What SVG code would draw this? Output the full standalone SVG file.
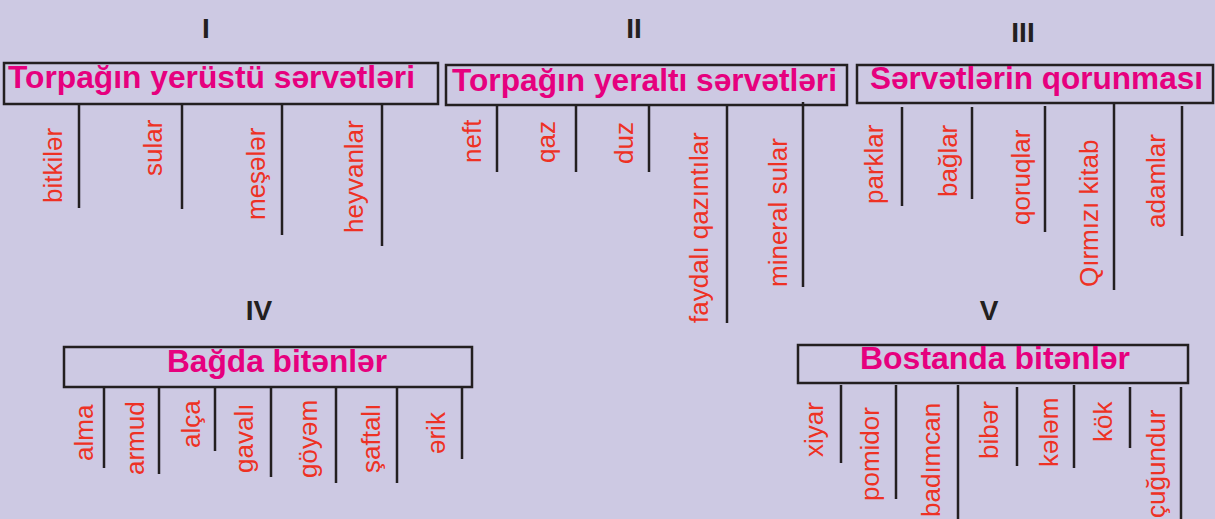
<svg xmlns="http://www.w3.org/2000/svg" width="1215" height="519" viewBox="0 0 1215 519">
<style>
.num{font-family:"Liberation Sans",Arial,sans-serif;font-weight:bold;font-size:28px;fill:#231f20;text-anchor:middle}
.ttl{font-family:"Liberation Sans",Arial,sans-serif;font-weight:bold;font-size:31px;fill:#e6007e}
.lbl{font-family:"Liberation Sans",Arial,sans-serif;font-size:26px;fill:#ee3124}
.box{fill:none;stroke:#231f20;stroke-width:2.5}
.ln{stroke:#231f20;stroke-width:2.5;fill:none}
</style>
<rect width="1215" height="519" fill="#cdc9e3"/>

<g id="node-I">
<text class="num" x="206" y="38">I</text>
<rect class="box" x="4" y="63" width="434" height="41"/>
<text class="ttl" x="8" y="88" textLength="407" lengthAdjust="spacingAndGlyphs">Torpağın yerüstü sərvətləri</text>
<text class="lbl" transform="translate(62,203) rotate(-90)">bitkilər</text>
<text class="lbl" transform="translate(162,176) rotate(-90)">sular</text>
<text class="lbl" transform="translate(265,220) rotate(-90)">meşələr</text>
<text class="lbl" transform="translate(363,233) rotate(-90)">heyvanlar</text>
</g>

<g id="node-II">
<text class="num" x="634" y="38">II</text>
<rect class="box" x="446" y="65" width="401" height="40"/>
<text class="ttl" x="452" y="91" textLength="385" lengthAdjust="spacingAndGlyphs">Torpağın yeraltı sərvətləri</text>
<text class="lbl" transform="translate(481,163) rotate(-90)">neft</text>
<text class="lbl" transform="translate(555,163) rotate(-90)">qaz</text>
<text class="lbl" transform="translate(633,164) rotate(-90)">duz</text>
<text class="lbl" transform="translate(708,323) rotate(-90)">faydalı qazıntılar</text>
<text class="lbl" transform="translate(787,287) rotate(-90)">mineral sular</text>
</g>

<g id="node-III">
<text class="num" x="1023" y="42">III</text>
<rect class="box" x="857" y="65" width="356" height="38"/>
<text class="ttl" x="870" y="89" textLength="333" lengthAdjust="spacingAndGlyphs">Sərvətlərin qorunması</text>
<text class="lbl" transform="translate(883,204) rotate(-90)">parklar</text>
<text class="lbl" transform="translate(957,197) rotate(-90)">bağlar</text>
<text class="lbl" transform="translate(1030,225) rotate(-90)">qoruqlar</text>
<text class="lbl" transform="translate(1098,287) rotate(-90)">Qırmızı kitab</text>
<text class="lbl" transform="translate(1165,228) rotate(-90)">adamlar</text>
</g>

<g id="node-IV">
<text class="num" x="259" y="320">IV</text>
<rect class="box" x="64" y="347" width="408" height="40"/>
<text class="ttl" x="167" y="372" textLength="220" lengthAdjust="spacingAndGlyphs">Bağda bitənlər</text>
<text class="lbl" transform="translate(93,461) rotate(-90)">alma</text>
<text class="lbl" transform="translate(144,475) rotate(-90)">armud</text>
<text class="lbl" transform="translate(200,448) rotate(-90)">alça</text>
<text class="lbl" transform="translate(253,473) rotate(-90)">gavalı</text>
<text class="lbl" transform="translate(317,478) rotate(-90)">göyəm</text>
<text class="lbl" transform="translate(380,473) rotate(-90)">şaftalı</text>
<text class="lbl" transform="translate(445,454) rotate(-90)">ərik</text>
</g>

<g id="node-V">
<text class="num" x="989" y="320">V</text>
<rect class="box" x="798" y="345" width="390" height="38"/>
<text class="ttl" x="860" y="369" textLength="270" lengthAdjust="spacingAndGlyphs">Bostanda bitənlər</text>
<text class="lbl" transform="translate(823,457) rotate(-90)">xiyar</text>
<text class="lbl" transform="translate(879,501) rotate(-90)">pomidor</text>
<text class="lbl" transform="translate(940,517) rotate(-90)">badımcan</text>
<text class="lbl" transform="translate(998,459) rotate(-90)">bibər</text>
<text class="lbl" transform="translate(1058,467) rotate(-90)">kələm</text>
<text class="lbl" transform="translate(1112,442) rotate(-90)">kök</text>
<text class="lbl" transform="translate(1165,518) rotate(-90)">çuğundur</text>
</g>

<g id="connectors" class="ln">
<line x1="79" y1="104" x2="79" y2="208"/>
<line x1="182" y1="104" x2="182" y2="209"/>
<line x1="282" y1="104" x2="282" y2="235"/>
<line x1="382" y1="104" x2="382" y2="246"/>

<line x1="497" y1="105" x2="497" y2="172"/>
<line x1="576" y1="105" x2="576" y2="172"/>
<line x1="649" y1="105" x2="649" y2="172"/>
<line x1="727" y1="105" x2="727" y2="323"/>
<line x1="803" y1="102" x2="803" y2="287"/>

<line x1="902" y1="107" x2="902" y2="206"/>
<line x1="972" y1="107" x2="972" y2="199"/>
<line x1="1045" y1="106" x2="1045" y2="232"/>
<line x1="1114" y1="104" x2="1114" y2="290"/>
<line x1="1182" y1="106" x2="1182" y2="236"/>

<line x1="104" y1="387" x2="104" y2="468"/>
<line x1="159" y1="387" x2="159" y2="474"/>
<line x1="215" y1="387" x2="215" y2="451"/>
<line x1="271" y1="387" x2="271" y2="477"/>
<line x1="336" y1="387" x2="336" y2="483"/>
<line x1="397" y1="387" x2="397" y2="483"/>
<line x1="462" y1="387" x2="462" y2="459"/>

<line x1="841" y1="385" x2="841" y2="463"/>
<line x1="896" y1="385" x2="896" y2="499"/>
<line x1="958" y1="385" x2="958" y2="519"/>
<line x1="1017" y1="387" x2="1017" y2="466"/>
<line x1="1074" y1="385" x2="1074" y2="468"/>
<line x1="1130" y1="387" x2="1130" y2="448"/>
<line x1="1181" y1="387" x2="1181" y2="519"/>
</g>
</svg>
